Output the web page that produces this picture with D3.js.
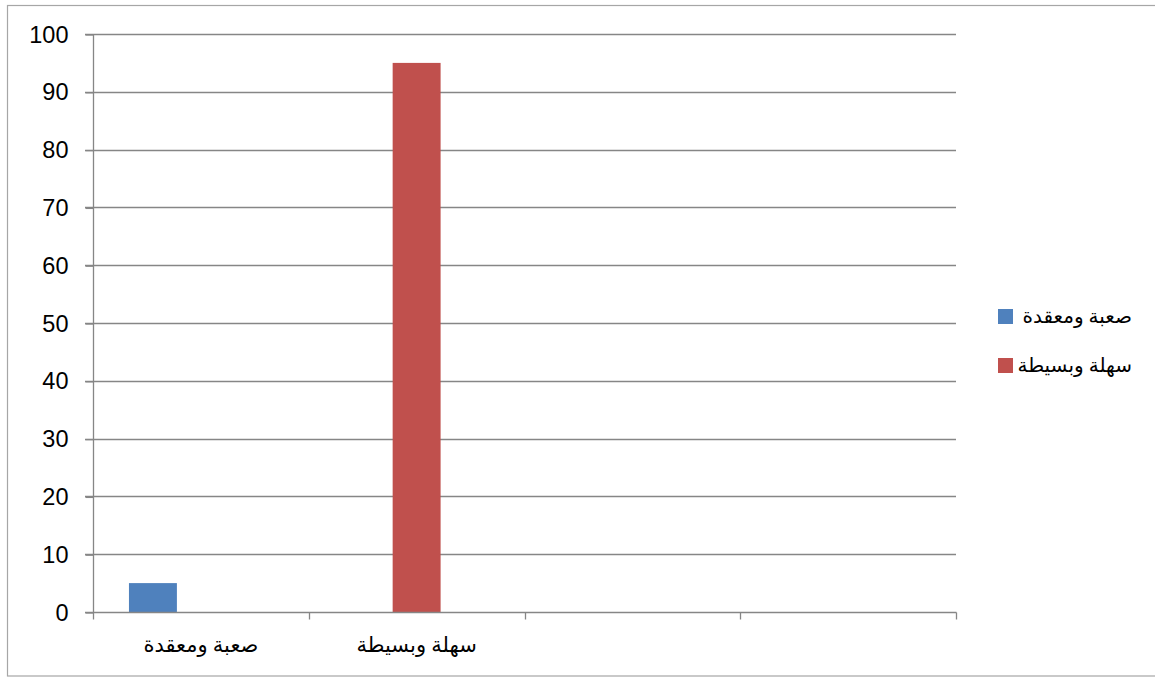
<!DOCTYPE html>
<html>
<head>
<meta charset="utf-8">
<script src="https://cdn.jsdelivr.net/npm/d3@7/dist/d3.min.js"></script>
<style>
  html, body { margin: 0; padding: 0; background: #fff; }
  svg { display: block; }
  .num { font-family: "Liberation Sans", Arial, sans-serif; font-size: 23.5px; fill: #000; }
  .ar { font-family: "Times New Roman", "Liberation Serif", "DejaVu Serif", "DejaVu Sans", serif; font-size: 21px; fill: #000; }
  .leg { font-size: 20px; }
</style>
</head>
<body>
<svg id="chart" width="1155" height="677"></svg>
<script>
// Category slots along the x axis (the last two are empty)
const categories = ["صعبة ومعقدة", "سهلة وبسيطة", "", ""];
// Series names and colours
const seriesNames = ["صعبة ومعقدة", "سهلة وبسيطة", ""];
const seriesColors = ["#4f81bd", "#c0504d", "#9bbb59"];
// Values per series, one entry per category (null = no bar)
const seriesDifficult = [5, null, null, null];
const seriesEasy = [null, 95, null, null];
const seriesThird = [null, null, null, null];
const yTicks = [0, 10, 20, 30, 40, 50, 60, 70, 80, 90, 100];

const svg = d3.select("#chart");
const plot = { left: 93, right: 956, top: 34, bottom: 612 };
const gridColor = "#868686";

// Outer frame
svg.append("rect")
  .attr("x", 7.5).attr("y", 5.5)
  .attr("width", 1160).attr("height", 670.5)
  .attr("fill", "none").attr("stroke", "#a6a6a6").attr("stroke-width", 1.2);

const x = d3.scaleBand().domain(d3.range(categories.length))
  .range([plot.left, plot.right]).paddingInner(0).paddingOuter(0);
const y = d3.scaleLinear().domain([0, 100]).range([plot.bottom, plot.top]);

// Sub-band for the three series inside each category, 150% gap between groups
const bw = x.bandwidth();
const barW = bw / (3 + 1.5);
const xs = d3.scaleBand().domain(d3.range(3)).range([barW * 0.75, bw - barW * 0.75]).padding(0);

// Horizontal gridlines
svg.append("g").selectAll("line").data(yTicks.filter(t => t > 0)).join("line")
  .attr("x1", plot.left - 8).attr("x2", plot.right)
  .attr("y1", d => Math.round(y(d)) + 0.5).attr("y2", d => Math.round(y(d)) + 0.5)
  .attr("stroke", gridColor).attr("stroke-width", 1.3);

// Y axis
const yAxis = d3.axisLeft(y).tickValues(yTicks).tickSize(8).tickPadding(17);
const gy = svg.append("g").attr("transform", `translate(${plot.left + 0.5},0.5)`).call(yAxis);
gy.select(".domain").attr("stroke", gridColor).attr("stroke-width", 1.3).attr("d", `M0,${plot.top}V${plot.bottom}`);
gy.selectAll(".tick line").attr("stroke", gridColor).attr("stroke-width", 1.3);
gy.selectAll(".tick text").attr("class", "num").attr("font-family", null).attr("font-size", null);

// Bars
const allSeries = [seriesDifficult, seriesEasy, seriesThird];
allSeries.forEach((vals, si) => {
  svg.append("g").selectAll("rect")
    .data(vals.map((v, i) => ({ v, i })).filter(d => d.v != null))
    .join("rect")
    .attr("x", d => x(d.i) + xs(si))
    .attr("width", xs.bandwidth())
    .attr("y", d => y(d.v))
    .attr("height", d => y(0) - y(d.v))
    .attr("fill", seriesColors[si]);
});

// X axis
const gx = svg.append("g").attr("transform", `translate(0,${plot.bottom + 0.5})`);
gx.append("line").attr("x1", plot.left - 8).attr("x2", plot.right + 0.5)
  .attr("stroke", gridColor).attr("stroke-width", 1.3);
const edges = d3.range(categories.length + 1).map(i => i < categories.length ? x(i) : plot.right);
gx.selectAll("line.tk").data(edges).join("line").attr("class", "tk")
  .attr("x1", d => Math.round(d) + 0.5).attr("x2", d => Math.round(d) + 0.5)
  .attr("y1", 0).attr("y2", 7)
  .attr("stroke", gridColor).attr("stroke-width", 1.3);
gx.selectAll("text").data(categories.map((c, i) => ({ c, i })).filter(d => d.c)).join("text")
  .attr("class", "ar")
  .attr("x", d => x(d.i) + bw / 2)
  .attr("y", 39)
  .attr("text-anchor", "middle")
  .attr("direction", "rtl")
  .text(d => d.c);

// Legend
const legendItems = seriesNames.map((n, i) => ({ n, c: seriesColors[i] })).filter(d => d.n);
const lg = svg.append("g").selectAll("g").data(legendItems).join("g")
  .attr("transform", (d, i) => `translate(998,${309 + i * 49})`);
lg.append("rect").attr("width", 15).attr("height", 15).attr("fill", d => d.c);
lg.append("text").attr("class", "ar leg")
  .attr("x", 134).attr("y", 14)
  .attr("text-anchor", "end")
  .text(d => d.n);
</script>
</body>
</html>
